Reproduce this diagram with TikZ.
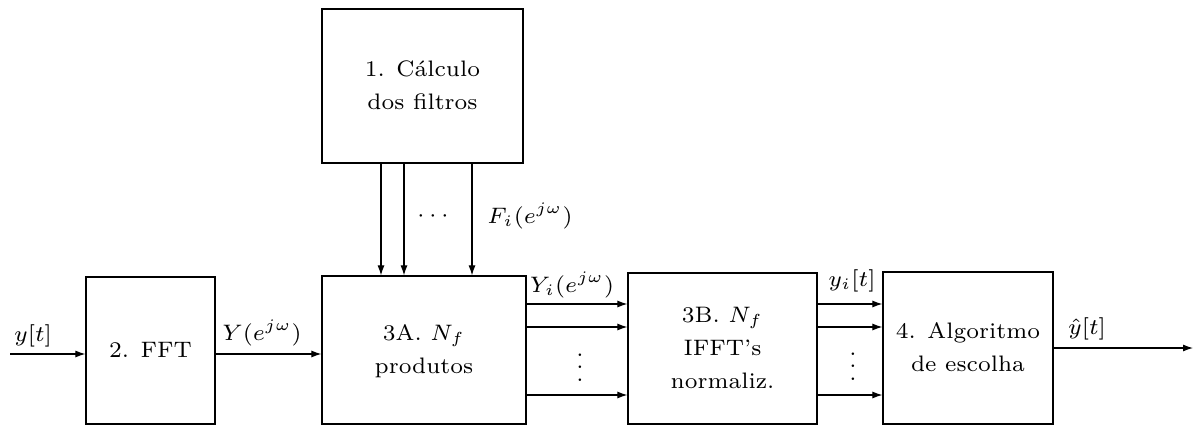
\documentclass[tikz,border=0pt]{standalone}
\usepackage{graphicx}
\usetikzlibrary{arrows.meta}
\newcommand{\Tx}[1]{\scalebox{3.2}{\fontsize{7}{10.3}\selectfont\begin{tabular}{@{}c@{}}#1\end{tabular}}}
\newcommand{\Tl}[1]{\scalebox{3.2}{\fontsize{7}{10.3}\selectfont #1}}
\begin{document}
\begin{tikzpicture}[x=1pt,y=-1pt,
  blk/.style={draw,line width=1.2pt,align=center,inner sep=0pt},
  con/.style={line width=1.1pt,-{Latex[length=10pt,width=7pt]}},
  lbl/.style={inner sep=0pt}]
\useasboundingbox (0,0) rectangle (1195,428);
% blocks
\node[blk,minimum width=201pt,minimum height=154pt] (b1) at (422.5,86) {\Tx{1. Cálculo\\dos filtros}};
\node[blk,minimum width=129pt,minimum height=147pt] (b2) at (150.5,350.5) {\Tx{2. FFT}};
\node[blk,minimum width=204pt,minimum height=148pt] (b3a) at (424,350) {\Tx{3A. $N_f$\\produtos}};
\node[blk,minimum width=189pt,minimum height=151pt] (b3b) at (722.5,348.5) {\Tx{3B. $N_f$\\IFFT's\\normaliz.}};
\node[blk,minimum width=170pt,minimum height=152pt] (b4) at (968,348) {\Tx{4. Algoritmo\\de escolha}};
% helper coordinates
\coordinate (f1) at (381,0);
\coordinate (f2) at (404,0);
\coordinate (f3) at (472,0);
\coordinate (r1) at (0,304);
\coordinate (r2) at (0,327);
\coordinate (r3) at (0,395);
\coordinate (in) at (10,354);
\coordinate (out) at (1193,348);
% connectors
\draw[con] (in) -- (b2.west |- in);
\draw[con] (b2.east |- in) -- (b3a.west |- in);
\foreach \f in {f1,f2,f3}
  \draw[con] (b1.south -| \f) -- (b3a.north -| \f);
\foreach \r in {r1,r2,r3}{
  \draw[con] (b3a.east |- \r) -- (b3b.west |- \r);
  \draw[con] (b3b.east |- \r) -- (b4.west |- \r);
}
\draw[con] (b4.east |- out) -- (out);
% labels
\node[lbl] (ly) at (33,336) {\Tl{$y[t]$}};
\node[lbl] (lY) at (262,333) {\Tl{$Y(e^{j\omega})$}};
\node[lbl] (ldots) at (433,216) {\Tl{$\cdots$}};
\node[lbl] (lF) at (530,216) {\Tl{$F_i(e^{j\omega})$}};
\node[lbl] (lYi) at (572,285) {\Tl{$Y_i(e^{j\omega})$}};
\node[lbl] (lv1) at (580,358) {\Tl{$\vdots$}};
\node[lbl] (lyi) at (852,281) {\Tl{$y_i[t]$}};
\node[lbl] (lv2) at (853,357) {\Tl{$\vdots$}};
\node[lbl] (lhat) at (1087,329) {\Tl{$\hat{y}[t]$}};
\end{tikzpicture}
\end{document}
